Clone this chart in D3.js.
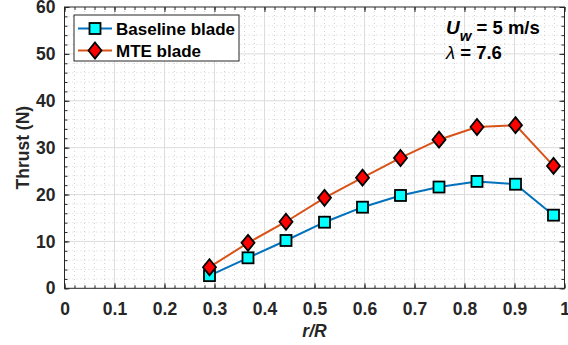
<!DOCTYPE html>
<html>
<head>
<meta charset="utf-8">
<script src="https://cdn.jsdelivr.net/npm/d3@7"></script>
<style>
  html, body { margin: 0; padding: 0; background: #fff; }
  svg { display: block; font-family: "Liberation Sans", Arial, Helvetica, sans-serif; }
</style>
</head>
<body>
<svg id="chart" width="568" height="345"></svg>
<script>
// Radial positions r/R along the blade
const rR = [0.29, 0.367, 0.443, 0.52, 0.596, 0.672, 0.749, 0.825, 0.902, 0.978];
// Thrust (N) per blade design
const baselineThrust = [2.7, 6.5, 10.2, 14.1, 17.3, 19.8, 21.6, 22.8, 22.2, 15.6];
const mteThrust      = [4.5, 9.7, 14.2, 19.3, 23.6, 27.8, 31.7, 34.4, 34.8, 26.1];
const seriesNames = ["Baseline blade", "MTE blade"];
const xTicks = [0, 0.1, 0.2, 0.3, 0.4, 0.5, 0.6, 0.7, 0.8, 0.9, 1];
const xTickLabels = ["0", "0.1", "0.2", "0.3", "0.4", "0.5", "0.6", "0.7", "0.8", "0.9", "1"];
const yTicks = [0, 10, 20, 30, 40, 50, 60];

const svg = d3.select("#chart");
const L = 64.5, R = 564.5, T = 7, B = 288.3;

const x = d3.scaleLinear().domain([0, 1]).range([L, R]);
const y = d3.scaleLinear().domain([0, 60]).range([B, T]);

const axisColor = "#262626";
const tickFont = 17.5;
const minorX = d3.range(0, 1.0001, 0.02);
const minorY = d3.range(0, 60.001, 2);

// Minor grid (dotted)
const grid = svg.append("g");
grid.selectAll("line.mx").data(minorX.filter(v => Math.abs(v * 10 - Math.round(v * 10)) > 1e-6))
  .join("line")
  .attr("x1", d => x(d)).attr("x2", d => x(d)).attr("y1", T).attr("y2", B)
  .attr("stroke", "#c8c8c8").attr("stroke-width", 0.8).attr("stroke-dasharray", "1,3");
grid.selectAll("line.my").data(minorY.filter(v => v % 10 !== 0))
  .join("line")
  .attr("x1", L).attr("x2", R).attr("y1", d => y(d)).attr("y2", d => y(d))
  .attr("stroke", "#c8c8c8").attr("stroke-width", 0.8).attr("stroke-dasharray", "1,3");
// Major grid (solid light)
grid.selectAll("line.gx").data(xTicks.slice(1, -1)).join("line")
  .attr("x1", d => x(d)).attr("x2", d => x(d)).attr("y1", T).attr("y2", B)
  .attr("stroke", "#dcdcdc").attr("stroke-width", 1);
grid.selectAll("line.gy").data(yTicks.slice(1, -1)).join("line")
  .attr("x1", L).attr("x2", R).attr("y1", d => y(d)).attr("y2", d => y(d))
  .attr("stroke", "#dcdcdc").attr("stroke-width", 1);

// Axes with inward ticks on all four sides
function styleAxis(g) {
  g.select(".domain").remove();
  g.selectAll("line").attr("stroke", axisColor).attr("stroke-width", 1);
  g.selectAll("text").attr("fill", axisColor).attr("font-weight", "bold").attr("font-size", tickFont);
}
const xAxisB = d3.axisBottom(x).tickValues(xTicks).tickFormat((d, i) => xTickLabels[i]).tickSizeInner(-5).tickPadding(14);
svg.append("g").attr("transform", `translate(0,${B})`).call(xAxisB).call(styleAxis);
svg.append("g").attr("transform", `translate(0,${B})`)
  .call(d3.axisBottom(x).tickValues(minorX).tickFormat("").tickSizeInner(-3).tickSizeOuter(0)).call(styleAxis);
svg.append("g").attr("transform", `translate(0,${T})`)
  .call(d3.axisTop(x).tickValues(xTicks).tickFormat("").tickSizeInner(-5).tickSizeOuter(0)).call(styleAxis);
svg.append("g").attr("transform", `translate(0,${T})`)
  .call(d3.axisTop(x).tickValues(minorX).tickFormat("").tickSizeInner(-3).tickSizeOuter(0)).call(styleAxis);

const yAxisL = d3.axisLeft(y).tickValues(yTicks).tickSizeInner(-5).tickPadding(9);
svg.append("g").attr("transform", `translate(${L},0)`).call(yAxisL).call(styleAxis);
svg.append("g").attr("transform", `translate(${L},0)`)
  .call(d3.axisLeft(y).tickValues(minorY).tickFormat("").tickSizeInner(-3).tickSizeOuter(0)).call(styleAxis);
svg.append("g").attr("transform", `translate(${R},0)`)
  .call(d3.axisRight(y).tickValues(yTicks).tickFormat("").tickSizeInner(-5).tickSizeOuter(0)).call(styleAxis);
svg.append("g").attr("transform", `translate(${R},0)`)
  .call(d3.axisRight(y).tickValues(minorY).tickFormat("").tickSizeInner(-3).tickSizeOuter(0)).call(styleAxis);

// Frame
svg.append("rect").attr("x", L).attr("y", T).attr("width", R - L).attr("height", B - T)
  .attr("fill", "none").attr("stroke", axisColor).attr("stroke-width", 1);

// Axis labels
svg.append("text").attr("x", (L + R) / 2).attr("y", 337).attr("text-anchor", "middle")
  .attr("font-size", tickFont).attr("font-weight", "bold").attr("font-style", "italic")
  .attr("fill", axisColor).text("r/R");
svg.append("text").attr("transform", `translate(29,${(T + B) / 2}) rotate(-90)`)
  .attr("text-anchor", "middle").attr("font-size", tickFont).attr("font-weight", "bold")
  .attr("fill", axisColor).text("Thrust (N)");

// Series
const series = [
  { name: seriesNames[0], values: baselineThrust, line: "#0072BD", fill: "#00FFFF", marker: "square" },
  { name: seriesNames[1], values: mteThrust, line: "#D95319", fill: "#FF0000", marker: "diamond" }
];
const lineGen = d3.line().x((d, i) => x(rR[i])).y(d => y(d));

function drawMarker(g, type, fill) {
  if (type === "square") {
    g.append("rect").attr("x", -5.5).attr("y", -5.5).attr("width", 11).attr("height", 11)
      .attr("fill", fill).attr("stroke", "#000").attr("stroke-width", 1.8);
  } else {
    g.append("path").attr("d", "M0,-8 L6.5,0 L0,8 L-6.5,0 Z")
      .attr("fill", fill).attr("stroke", "#000").attr("stroke-width", 1.8).attr("stroke-linejoin", "miter");
  }
}

series.forEach(s => {
  svg.append("path").datum(s.values).attr("d", lineGen)
    .attr("fill", "none").attr("stroke", s.line).attr("stroke-width", 2);
});
series.forEach(s => {
  s.values.forEach((v, i) => {
    const g = svg.append("g").attr("transform", `translate(${x(rR[i])},${y(v)})`);
    drawMarker(g, s.marker, s.fill);
  });
});

// Legend
const leg = svg.append("g");
leg.append("rect").attr("x", 74).attr("y", 15).attr("width", 165).attr("height", 46)
  .attr("fill", "#fff").attr("stroke", axisColor).attr("stroke-width", 1);
series.forEach((s, i) => {
  const cy = 28.5 + i * 22;
  leg.append("line").attr("x1", 78).attr("x2", 112).attr("y1", cy).attr("y2", cy)
    .attr("stroke", s.line).attr("stroke-width", 2);
  const g = leg.append("g").attr("transform", `translate(95,${cy})`);
  drawMarker(g, s.marker, s.fill);
  leg.append("text").attr("x", 116).attr("y", cy + 6).attr("font-size", 17)
    .attr("font-weight", "bold").attr("fill", "#000").text(s.name);
});

// Operating condition annotation
const ann = svg.append("text").attr("x", 446).attr("y", 34).attr("font-size", 18.5)
  .attr("font-weight", "bold").attr("fill", "#000");
ann.append("tspan").attr("font-style", "italic").attr("font-size", 19).text("U");
ann.append("tspan").attr("font-style", "italic").attr("dy", 7).attr("font-size", 15).text("w");
ann.append("tspan").attr("dy", -7).text(" = 5 m/s");
const lam = svg.append("text").attr("x", 446).attr("y", 59).attr("font-size", 18.5)
  .attr("font-weight", "bold").attr("fill", "#000");
lam.append("tspan").attr("font-style", "italic").attr("font-weight", "normal").text("λ");
lam.append("tspan").text(" = 7.6");
</script>
</body>
</html>
